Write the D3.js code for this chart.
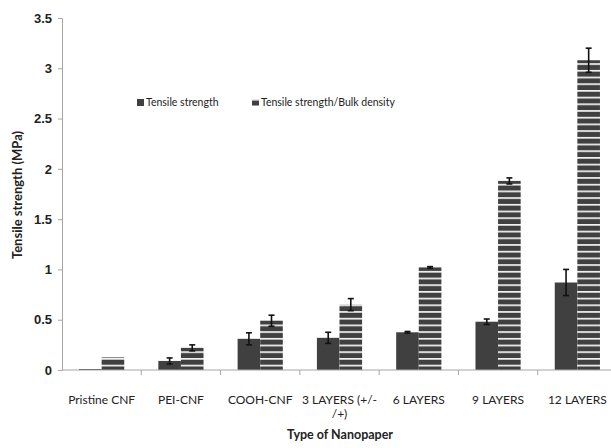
<!DOCTYPE html>
<html>
<head>
<meta charset="utf-8">
<script src="https://cdn.jsdelivr.net/npm/d3@7"></script>
<style>
  body { margin: 0; background: #fff; }
  svg { display: block; font-family: Lato, "Open Sans", sans-serif; }
</style>
</head>
<body>
<svg id="chart" width="611" height="448"></svg>
<script>
// data
const categories = ['Pristine CNF', 'PEI-CNF', 'COOH-CNF', '3 LAYERS (+/-\n/+)', '6 LAYERS', '9 LAYERS', '12 LAYERS'];
const strength = [0.01, 0.09, 0.31, 0.32, 0.375, 0.48, 0.87];
const strengthErr = [0, 0.03, 0.06, 0.055, 0.008, 0.027, 0.13];
const perDensity = [0.125, 0.22, 0.49, 0.65, 1.02, 1.88, 3.08];
const perDensityErr = [0, 0.03, 0.055, 0.06, 0.008, 0.03, 0.12];
const yTicks = [0, 0.5, 1, 1.5, 2, 2.5, 3, 3.5];
const seriesNames = ['Tensile strength', 'Tensile strength/Bulk density'];

const margin = { top: 18, left: 62, bottom: 78 };
const width = 555; // runs off the right edge like the original
const height = 448 - margin.top - margin.bottom;

const svg = d3.select('#chart');

// stripe pattern for the second series
const defs = svg.append('defs');
const pat = defs.append('pattern')
    .attr('id', 'stripes')
    .attr('patternUnits', 'userSpaceOnUse')
    .attr('width', 10)
    .attr('height', 6.7)
    .attr('patternTransform', 'translate(0,' + (margin.top + height + 3.5) + ')');
pat.append('rect').attr('width', 10).attr('height', 6.7).attr('fill', '#404040');
pat.append('rect').attr('y', 0).attr('width', 10).attr('height', 1.7).attr('fill', '#f2f2f2');

const g = svg.append('g')
    .attr('transform', 'translate(' + margin.left + ',' + margin.top + ')');

const x = d3.scaleBand()
    .domain(categories)
    .range([0, width]);

const bw = x.bandwidth() * 0.285;

const y = d3.scaleLinear()
    .domain([0, 3.5])
    .range([height, 0]);

// y axis
const yAxis = g.append('g')
    .call(d3.axisLeft(y).tickValues(yTicks).tickSize(4).tickFormat(d3.format('')));
yAxis.select('.domain').attr('stroke', '#a6a6a6');
yAxis.selectAll('.tick line').attr('stroke', '#a6a6a6');
yAxis.selectAll('.tick text')
    .attr('x', -10)
    .attr('font-size', 13)
    .attr('font-weight', 'bold')
    .attr('fill', '#222');

// bars
g.selectAll('.ts').data(categories).enter()
    .append('rect')
    .attr('x', d => x(d) + x.bandwidth() / 2 - bw)
    .attr('y', (d, i) => y(strength[i]))
    .attr('width', bw)
    .attr('height', (d, i) => height - y(strength[i]))
    .attr('fill', '#404040');

g.selectAll('.td').data(categories).enter()
    .append('rect')
    .attr('x', d => x(d) + x.bandwidth() / 2)
    .attr('y', (d, i) => y(perDensity[i]))
    .attr('width', bw)
    .attr('height', (d, i) => height - y(perDensity[i]))
    .attr('fill', 'url(#stripes)');

// error bars
function errorBars(vals, errs, offset) {
    const eg = g.append('g').attr('stroke', '#111').attr('stroke-width', 1.6);
    categories.forEach((c, i) => {
        if (!errs[i]) return;
        const cx = x(c) + x.bandwidth() / 2 + offset;
        const y1 = y(vals[i] + errs[i]), y2 = y(vals[i] - errs[i]);
        eg.append('line').attr('x1', cx).attr('x2', cx).attr('y1', y1).attr('y2', y2);
        eg.append('line').attr('x1', cx - 3).attr('x2', cx + 3).attr('y1', y1).attr('y2', y1);
        eg.append('line').attr('x1', cx - 3).attr('x2', cx + 3).attr('y1', y2).attr('y2', y2);
    });
}
errorBars(strength, strengthErr, -bw / 2);
errorBars(perDensity, perDensityErr, bw / 2);

// x axis, ticks sit between categories
const xAxis = g.append('g')
    .attr('transform', 'translate(0,' + height + ')');
xAxis.append('line')
    .attr('x1', 0).attr('x2', width)
    .attr('stroke', '#a6a6a6');
xAxis.selectAll('.tk').data(categories).enter()
    .append('line')
    .attr('x1', d => x(d) + x.bandwidth()).attr('x2', d => x(d) + x.bandwidth())
    .attr('y1', 0).attr('y2', 5)
    .attr('stroke', '#a6a6a6');
// category labels, one text per line
categories.forEach(d => {
    d.split('\n').forEach((s, k) => {
        xAxis.append('text')
            .attr('x', x(d) + x.bandwidth() / 2)
            .attr('y', 34 + k * 14)
            .attr('text-anchor', 'middle')
            .attr('font-size', 12)
            .attr('fill', '#222')
            .text(s);
    });
});

// axis titles
svg.append('text')
    .attr('x', 340)
    .attr('y', 439)
    .attr('text-anchor', 'middle')
    .attr('font-size', 12.5)
    .attr('font-weight', 'bold')
    .attr('fill', '#222')
    .text('Type of Nanopaper');

svg.append('text')
    .attr('transform', 'translate(22,195) rotate(-90)')
    .attr('text-anchor', 'middle')
    .attr('font-size', 13)
    .attr('font-weight', 'bold')
    .attr('fill', '#222')
    .text('Tensile strength (MPa)');

// legend
const legend = svg.append('g').attr('font-size', 10.5).attr('fill', '#222');
const lx = [137, 252];
seriesNames.forEach((s, i) => {
    legend.append('rect')
        .attr('x', lx[i]).attr('y', 99)
        .attr('width', 7).attr('height', 7)
        .attr('fill', i ? 'url(#stripes)' : '#404040');
    legend.append('text')
        .attr('x', lx[i] + 9).attr('y', 106)
        .text(s);
});
</script>
</body>
</html>
